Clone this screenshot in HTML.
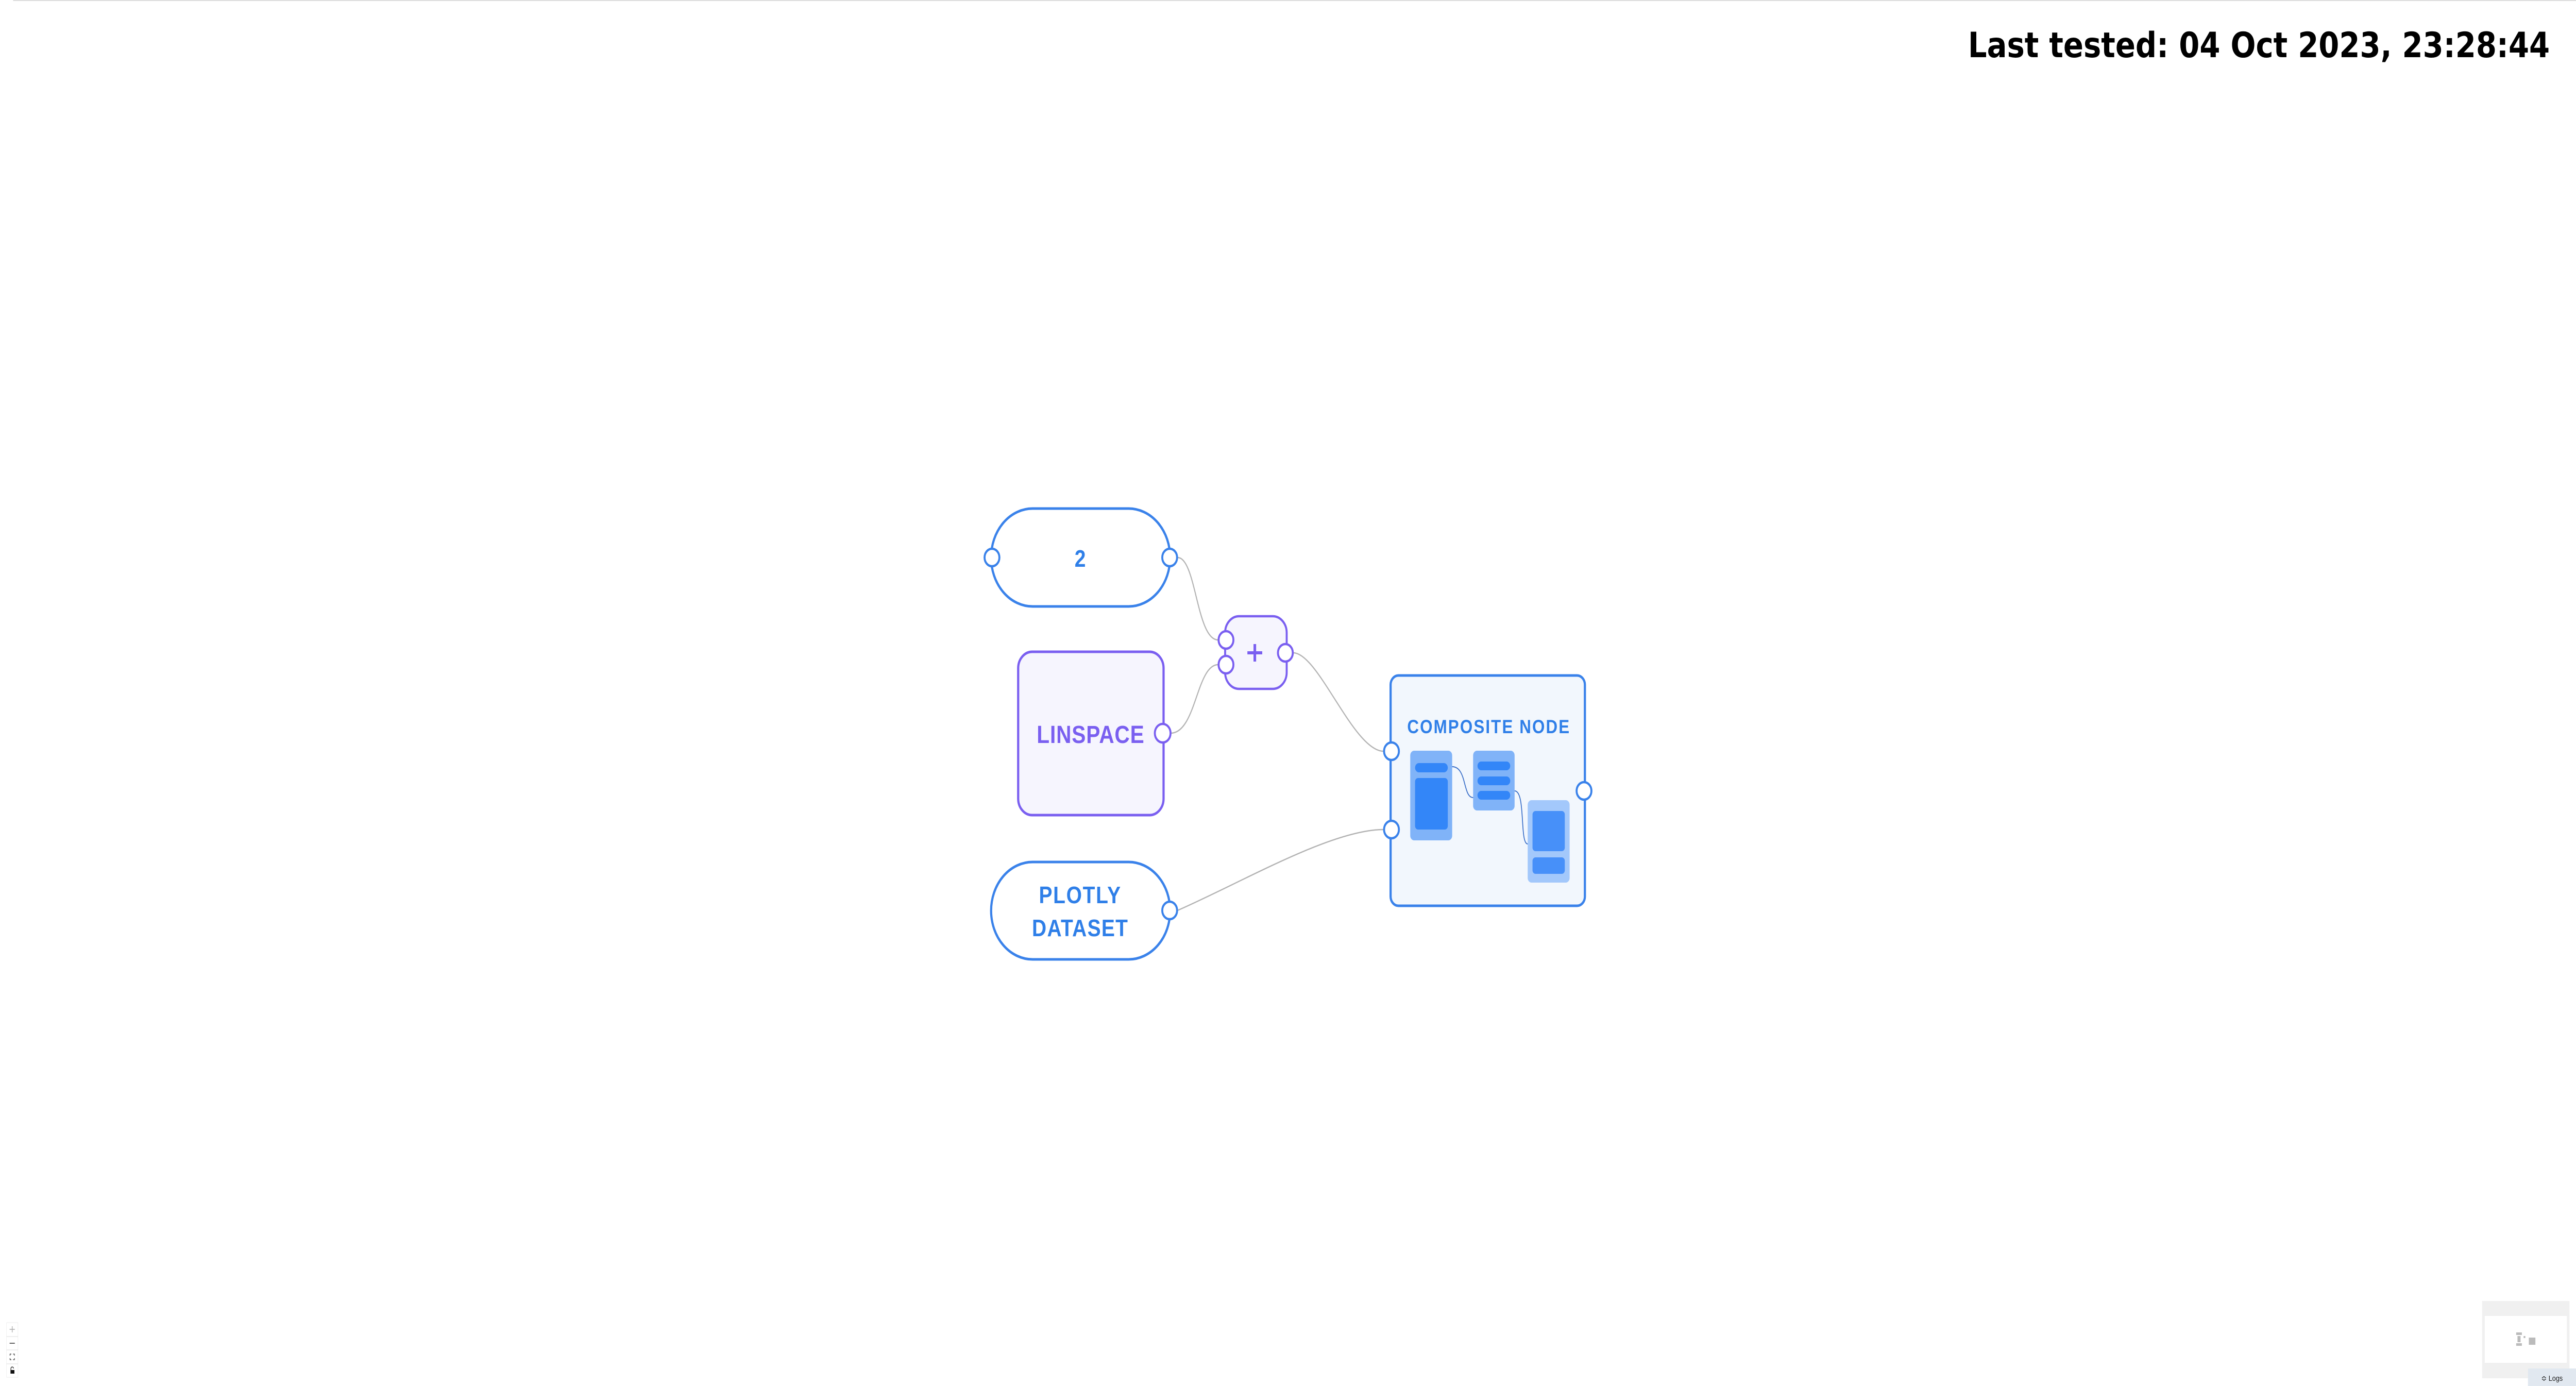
<!DOCTYPE html>
<html><head><meta charset="utf-8"><style>
html,body{margin:0;padding:0;background:#fff;width:100%;height:100%;overflow:hidden}
svg{display:block;position:fixed;left:0;top:0;width:100vw;height:100vh}
</style></head><body>
<svg viewBox="0 0 5900 2690" preserveAspectRatio="none" xmlns="http://www.w3.org/2000/svg">
<rect x="0" y="0" width="5900" height="2690" fill="#fff"/>
<line x1="30" y1="1" x2="5900" y2="1" stroke="#ddd" stroke-width="2"/>
<text x="5840" y="111" text-anchor="end" font-family="DejaVu Sans, sans-serif" font-weight="bold" font-size="68" fill="#000">Last tested: 04 Oct 2023, 23:28:44</text>

<g fill="none" stroke="#b3b3b3" stroke-width="2.5">
<path d="M2697 1082 C2740 1082 2740 1242 2790 1242"/>
<path d="M2681 1423 C2740 1423 2740 1290 2790 1290"/>
<path d="M2962 1267 C3020 1267 3100 1458 3169 1458"/>
<path d="M2697 1767 C2850 1710 3050 1610 3169 1610"/>
</g>

<rect x="2270" y="987" width="410" height="190" rx="95" ry="95" fill="#fff" stroke="#3a82ea" stroke-width="5"/>
<text x="2474" y="1100" text-anchor="middle" font-family="Liberation Sans, sans-serif" font-weight="bold" font-size="46" fill="#2f7fe8">2</text>
<circle cx="2272" cy="1082" r="17" fill="#fff" stroke="#3a82ea" stroke-width="4.5"/>
<circle cx="2679" cy="1082" r="17" fill="#fff" stroke="#3a82ea" stroke-width="4.5"/>

<rect x="2806" y="1196" width="141" height="141" rx="32" fill="#f6f5fe" stroke="#7a5ff0" stroke-width="4.5"/>
<rect x="2857" y="1264" width="34" height="6" fill="#7a5ff0"/>
<rect x="2871" y="1250" width="6" height="34" fill="#7a5ff0"/>
<circle cx="2808" cy="1242" r="17" fill="#fff" stroke="#7a5ff0" stroke-width="4.5"/>
<circle cx="2808" cy="1290" r="17" fill="#fff" stroke="#7a5ff0" stroke-width="4.5"/>
<circle cx="2944" cy="1267" r="17" fill="#fff" stroke="#7a5ff0" stroke-width="4.5"/>

<rect x="2332" y="1265" width="333" height="317" rx="32" fill="#f6f5fe" stroke="#7a5ff0" stroke-width="5"/>
<text x="2498" y="1442" text-anchor="middle" font-family="Liberation Sans, sans-serif" font-weight="bold" font-size="48" letter-spacing="1" fill="#7a5ff0">LINSPACE</text>
<circle cx="2663" cy="1423" r="18" fill="#fff" stroke="#7a5ff0" stroke-width="4.5"/>

<rect x="2270" y="1673" width="410" height="189" rx="95" ry="95" fill="#fff" stroke="#3a82ea" stroke-width="5"/>
<text x="2474" y="1753" text-anchor="middle" font-family="Liberation Sans, sans-serif" font-weight="bold" font-size="46" letter-spacing="2" fill="#2f7fe8">PLOTLY</text>
<text x="2474" y="1817" text-anchor="middle" font-family="Liberation Sans, sans-serif" font-weight="bold" font-size="46" letter-spacing="1.5" fill="#2f7fe8">DATASET</text>
<circle cx="2679" cy="1767" r="17" fill="#fff" stroke="#3a82ea" stroke-width="4.5"/>

<rect x="3185" y="1311" width="445" height="447" rx="18" fill="#f2f7fd" stroke="#3a82ea" stroke-width="5"/>
<text x="3410" y="1423" text-anchor="middle" font-family="Liberation Sans, sans-serif" font-weight="bold" font-size="37" letter-spacing="2.5" fill="#2f7fe8">COMPOSITE NODE</text>
<rect x="3230" y="1457" width="96" height="174" rx="9" fill="#80b3f8"/>
<rect x="3241" y="1481" width="75" height="18" rx="9" fill="#3386f8"/>
<rect x="3241" y="1510" width="75" height="100" rx="7" fill="#3386f8"/>
<rect x="3374" y="1457" width="95" height="116" rx="9" fill="#80b3f8"/>
<rect x="3384" y="1478" width="75" height="17" rx="8.5" fill="#3386f8"/>
<rect x="3384" y="1507" width="75" height="17" rx="8.5" fill="#3386f8"/>
<rect x="3384" y="1535" width="75" height="17" rx="8.5" fill="#3386f8"/>
<rect x="3499" y="1553" width="96" height="160" rx="9" fill="#a3c8fb"/>
<rect x="3510" y="1574" width="74" height="78" rx="7" fill="#4790f9"/>
<rect x="3510" y="1664" width="74" height="32" rx="7" fill="#4790f9"/>
<g fill="none" stroke="#3a6fc8" stroke-width="2">
<path d="M3326 1488 C3360 1488 3350 1548 3374 1548"/>
<path d="M3469 1535 C3495 1535 3480 1638 3499 1638"/>
</g>
<circle cx="3187" cy="1458" r="17" fill="#fff" stroke="#3a82ea" stroke-width="4.5"/>
<circle cx="3187" cy="1610" r="17" fill="#fff" stroke="#3a82ea" stroke-width="4.5"/>
<circle cx="3628" cy="1535" r="17" fill="#fff" stroke="#3a82ea" stroke-width="4.5"/>

<g>
<rect x="15" y="2567" width="26" height="106" fill="#fff" stroke="#eee" stroke-width="1"/>
<line x1="15" y1="2594" x2="41" y2="2594" stroke="#ddd"/>
<line x1="15" y1="2620" x2="41" y2="2620" stroke="#ddd"/>
<line x1="15" y1="2647" x2="41" y2="2647" stroke="#ddd"/>
<path d="M28 2574v12M22 2580h12" stroke="#aaa" stroke-width="1.5"/>
<path d="M22 2607h12" stroke="#333" stroke-width="1.5"/>
<path d="M23 2631v-3h3M30 2628h3v3M33 2636v3h-3M26 2639h-3v-3" stroke="#333" stroke-width="1.3" fill="none"/>
<rect x="24" y="2659" width="9" height="7" fill="#111"/>
<path d="M25 2659v-3a3 3 0 0 1 6 0" stroke="#111" stroke-width="1.3" fill="none"/>
</g>

<rect x="5685" y="2525" width="200" height="150" fill="#f0f0f0"/>
<rect x="5691" y="2554" width="188" height="91" fill="#fff"/>
<rect x="5763" y="2586" width="13" height="5" fill="#bbb"/>
<rect x="5766" y="2593" width="7" height="12" fill="#bbb"/>
<rect x="5763" y="2607" width="13" height="5" fill="#bbb"/>
<rect x="5780" y="2593" width="4" height="4" fill="#bbb"/>
<rect x="5792" y="2596" width="15" height="14" fill="#bbb"/>
<rect x="5790" y="2656" width="110" height="34" fill="#e1e8f0"/>
<text x="5845" y="2680" text-anchor="middle" font-family="Liberation Sans, sans-serif" font-size="15" fill="#222">≎ Logs</text>
</svg>
</body></html>
